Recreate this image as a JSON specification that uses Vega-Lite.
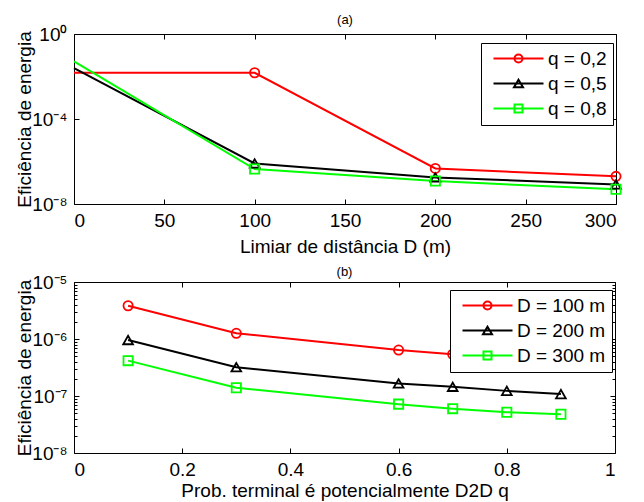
{
  "$schema": "https://vega.github.io/schema/vega-lite/v6.json",
  "background": "white",
  "padding": {"left": 14, "top": 13, "right": 5, "bottom": 3},
  "spacing": 8,
  "resolve": {"scale": {"color": "independent"}, "legend": {"color": "independent"}},
  "config": {
    "font": "Liberation Sans",
    "view": {"stroke": "black", "strokeWidth": 1},
    "axis": {
      "domain": false, "grid": false, "tickColor": "black", "tickWidth": 1, "tickSize": -5,
      "labelFont": "Liberation Sans", "labelFontSize": 19, "labelColor": "black",
      "titleFont": "Liberation Sans", "titleFontSize": 19, "titleFontWeight": "normal", "titleColor": "black",
      "labelPadding": 12, "titlePadding": 4
    },
    "axisLeft": {"titleX": -50, "titleBaseline": "middle"},
    "title": {"font": "Liberation Sans", "fontSize": 13, "fontWeight": "normal", "color": "black"},
    "legend": {
      "orient": "none", "title": null, "strokeColor": "black", "fillColor": "white", "padding": 6,
      "labelFont": "Liberation Sans", "labelFontSize": 19, "labelColor": "black",
      "symbolSize": 100, "symbolStrokeWidth": 2, "symbolOffset": 22, "labelOffset": 20, "rowPadding": 5, "zindex": 1,
      "symbolFillColor": "transparent", "symbolOpacity": 1
    }
  },
  "datasets": {
    "a": [
      {"D": 0, "serie": "q = 0,2", "eficiencia": 1.5e-2},
      {"D": 100, "serie": "q = 0,2", "eficiencia": 1.5e-2},
      {"D": 200, "serie": "q = 0,2", "eficiencia": 4.7e-7},
      {"D": 300, "serie": "q = 0,2", "eficiencia": 2.0e-7},
      {"D": 0, "serie": "q = 0,5", "eficiencia": 2.45e-2},
      {"D": 100, "serie": "q = 0,5", "eficiencia": 8.1e-7},
      {"D": 200, "serie": "q = 0,5", "eficiencia": 1.78e-7},
      {"D": 300, "serie": "q = 0,5", "eficiencia": 8.3e-8},
      {"D": 0, "serie": "q = 0,8", "eficiencia": 5.2e-2},
      {"D": 100, "serie": "q = 0,8", "eficiencia": 4.4e-7},
      {"D": 200, "serie": "q = 0,8", "eficiencia": 1.2e-7},
      {"D": 300, "serie": "q = 0,8", "eficiencia": 4.9e-8}
    ],
    "b": [
      {"q": 0.1, "serie": "D = 100 m", "eficiencia": 3.83e-6},
      {"q": 0.3, "serie": "D = 100 m", "eficiencia": 1.26e-6},
      {"q": 0.6, "serie": "D = 100 m", "eficiencia": 6.4e-7},
      {"q": 0.7, "serie": "D = 100 m", "eficiencia": 5.4e-7},
      {"q": 0.8, "serie": "D = 100 m", "eficiencia": 4.7e-7},
      {"q": 0.9, "serie": "D = 100 m", "eficiencia": 4.2e-7},
      {"q": 0.1, "serie": "D = 200 m", "eficiencia": 9.6e-7},
      {"q": 0.3, "serie": "D = 200 m", "eficiencia": 3.2e-7},
      {"q": 0.6, "serie": "D = 200 m", "eficiencia": 1.66e-7},
      {"q": 0.7, "serie": "D = 200 m", "eficiencia": 1.45e-7},
      {"q": 0.8, "serie": "D = 200 m", "eficiencia": 1.23e-7},
      {"q": 0.9, "serie": "D = 200 m", "eficiencia": 1.08e-7},
      {"q": 0.1, "serie": "D = 300 m", "eficiencia": 4.17e-7},
      {"q": 0.3, "serie": "D = 300 m", "eficiencia": 1.4e-7},
      {"q": 0.6, "serie": "D = 300 m", "eficiencia": 7.2e-8},
      {"q": 0.7, "serie": "D = 300 m", "eficiencia": 6.0e-8},
      {"q": 0.8, "serie": "D = 300 m", "eficiencia": 5.2e-8},
      {"q": 0.9, "serie": "D = 300 m", "eficiencia": 4.8e-8}
    ]
  },
  "vconcat": [
    {
      "title": {"text": "(a)", "offset": -2},
      "width": 542,
      "height": 170,
      "data": {"name": "a"},
      "layer": [
        {
          "mark": {"type": "line", "strokeWidth": 2},
          "encoding": {
            "x": {"field": "D", "type": "quantitative", "scale": {"domain": [0, 300], "nice": false},
              "axis": {"orient": "bottom", "values": [0, 50, 100, 150, 200, 250, 300], "title": "Limiar de distância D (m)", "titlePadding": 7}},
            "y": {"field": "eficiencia", "type": "quantitative", "scale": {"type": "log", "domain": [1e-8, 1], "nice": false},
              "axis": {"orient": "left", "values": [1e-8, 1e-4, 1], "title": "Eficiência de energia",
                "labelExpr": "'10' + replace(replace(replace(replace(toString(round(log(datum.value)/LN10)), '-', '⁻'), '0', '⁰'), '4', '⁴'), '8', '⁸')"}},
            "color": {"field": "serie", "type": "nominal",
              "scale": {"domain": ["q = 0,2", "q = 0,5", "q = 0,8"], "range": ["#ff0000", "#000000", "#00ff00"]},
              "legend": {"legendX": 407, "legendY": 9,
                "symbolType": {"expr": "datum.value == 'q = 0,2' ? 'M-5,0L5,0M0.8,0A0.8,0.8,0,1,1,-0.8,0A0.8,0.8,0,1,1,0.8,0Z' : datum.value == 'q = 0,5' ? 'M-5,0L5,0M0,-0.75L0.9,0.75L-0.9,0.75Z' : 'M-5,0L5,0M-0.8,-0.8L0.8,-0.8L0.8,0.8L-0.8,0.8Z'"}}}
          }
        },
        {
          "transform": [{"filter": "datum.D > 0 && datum.serie == 'q = 0,2'"}],
          "mark": {"type": "point", "shape": "circle", "filled": false, "strokeWidth": 1.8, "size": 85, "opacity": 1},
          "encoding": {
            "x": {"field": "D", "type": "quantitative",
              "axis": {"orient": "top", "values": [0, 50, 100, 150, 200, 250, 300], "labels": false, "title": null}},
            "y": {"field": "eficiencia", "type": "quantitative", "scale": {"type": "log"},
              "axis": {"orient": "right", "values": [1e-8, 1e-4, 1], "labels": false, "title": null}},
            "color": {"field": "serie", "type": "nominal", "legend": null}
          }
        },
        {
          "transform": [{"filter": "datum.D > 0 && datum.serie == 'q = 0,5'"}],
          "mark": {"type": "point", "shape": "triangle-up", "filled": false, "strokeWidth": 1.8, "size": 95, "opacity": 1},
          "encoding": {
            "x": {"field": "D", "type": "quantitative", "axis": null},
            "y": {"field": "eficiencia", "type": "quantitative", "scale": {"type": "log"}, "axis": null},
            "color": {"field": "serie", "type": "nominal", "legend": null}
          }
        },
        {
          "transform": [{"filter": "datum.D > 0 && datum.serie == 'q = 0,8'"}],
          "mark": {"type": "point", "shape": "square", "filled": false, "strokeWidth": 1.8, "size": 85, "opacity": 1},
          "encoding": {
            "x": {"field": "D", "type": "quantitative", "axis": null},
            "y": {"field": "eficiencia", "type": "quantitative", "scale": {"type": "log"}, "axis": null},
            "color": {"field": "serie", "type": "nominal", "legend": null}
          }
        }
      ]
    },
    {
      "title": {"text": "(b)", "offset": -6},
      "width": 541,
      "height": 171,
      "data": {"name": "b"},
      "layer": [
        {
          "mark": {"type": "line", "strokeWidth": 2},
          "encoding": {
            "x": {"field": "q", "type": "quantitative", "scale": {"domain": [0, 1], "nice": false},
              "axis": {"orient": "bottom", "values": [0, 0.2, 0.4, 0.6, 0.8, 1], "format": "~g", "title": "Prob. terminal é potencialmente D2D q", "titlePadding": 2}},
            "y": {"field": "eficiencia", "type": "quantitative", "scale": {"type": "log", "domain": [1e-8, 1e-5], "nice": false},
              "axis": {"orient": "left", "title": "Eficiência de energia",
                "values": [1e-8, 2e-8, 3e-8, 4e-8, 5e-8, 6e-8, 7e-8, 8e-8, 9e-8, 1e-7, 2e-7, 3e-7, 4e-7, 5e-7, 6e-7, 7e-7, 8e-7, 9e-7, 1e-6, 2e-6, 3e-6, 4e-6, 5e-6, 6e-6, 7e-6, 8e-6, 9e-6, 1e-5],
                "tickSize": {"condition": {"test": "abs(log(datum.value)/LN10 - round(log(datum.value)/LN10)) < 1e-6", "value": -5}, "value": -3},
                "labelExpr": "abs(log(datum.value)/LN10 - round(log(datum.value)/LN10)) < 1e-6 ? '10' + replace(replace(replace(replace(replace(toString(round(log(datum.value)/LN10)), '-', '⁻'), '5', '⁵'), '6', '⁶'), '7', '⁷'), '8', '⁸') : ''"}},
            "color": {"field": "serie", "type": "nominal",
              "scale": {"domain": ["D = 100 m", "D = 200 m", "D = 300 m"], "range": ["#ff0000", "#000000", "#00ff00"]},
              "legend": {"legendX": 376, "legendY": 8,
                "symbolType": {"expr": "datum.value == 'D = 100 m' ? 'M-5,0L5,0M0.8,0A0.8,0.8,0,1,1,-0.8,0A0.8,0.8,0,1,1,0.8,0Z' : datum.value == 'D = 200 m' ? 'M-5,0L5,0M0,-0.75L0.9,0.75L-0.9,0.75Z' : 'M-5,0L5,0M-0.8,-0.8L0.8,-0.8L0.8,0.8L-0.8,0.8Z'"}}}
          }
        },
        {
          "transform": [{"filter": "datum.serie == 'D = 100 m'"}],
          "mark": {"type": "point", "shape": "circle", "filled": false, "strokeWidth": 1.8, "size": 85, "opacity": 1},
          "encoding": {
            "x": {"field": "q", "type": "quantitative",
              "axis": {"orient": "top", "values": [0, 0.2, 0.4, 0.6, 0.8, 1], "labels": false, "title": null}},
            "y": {"field": "eficiencia", "type": "quantitative", "scale": {"type": "log"},
              "axis": {"orient": "right", "labels": false, "title": null,
                "values": [1e-8, 2e-8, 3e-8, 4e-8, 5e-8, 6e-8, 7e-8, 8e-8, 9e-8, 1e-7, 2e-7, 3e-7, 4e-7, 5e-7, 6e-7, 7e-7, 8e-7, 9e-7, 1e-6, 2e-6, 3e-6, 4e-6, 5e-6, 6e-6, 7e-6, 8e-6, 9e-6, 1e-5],
                "tickSize": {"condition": {"test": "abs(log(datum.value)/LN10 - round(log(datum.value)/LN10)) < 1e-6", "value": -5}, "value": -3}}},
            "color": {"field": "serie", "type": "nominal", "legend": null}
          }
        },
        {
          "transform": [{"filter": "datum.serie == 'D = 200 m'"}],
          "mark": {"type": "point", "shape": "triangle-up", "filled": false, "strokeWidth": 1.8, "size": 95, "opacity": 1},
          "encoding": {
            "x": {"field": "q", "type": "quantitative", "axis": null},
            "y": {"field": "eficiencia", "type": "quantitative", "scale": {"type": "log"}, "axis": null},
            "color": {"field": "serie", "type": "nominal", "legend": null}
          }
        },
        {
          "transform": [{"filter": "datum.serie == 'D = 300 m'"}],
          "mark": {"type": "point", "shape": "square", "filled": false, "strokeWidth": 1.8, "size": 85, "opacity": 1},
          "encoding": {
            "x": {"field": "q", "type": "quantitative", "axis": null},
            "y": {"field": "eficiencia", "type": "quantitative", "scale": {"type": "log"}, "axis": null},
            "color": {"field": "serie", "type": "nominal", "legend": null}
          }
        }
      ]
    }
  ]
}
